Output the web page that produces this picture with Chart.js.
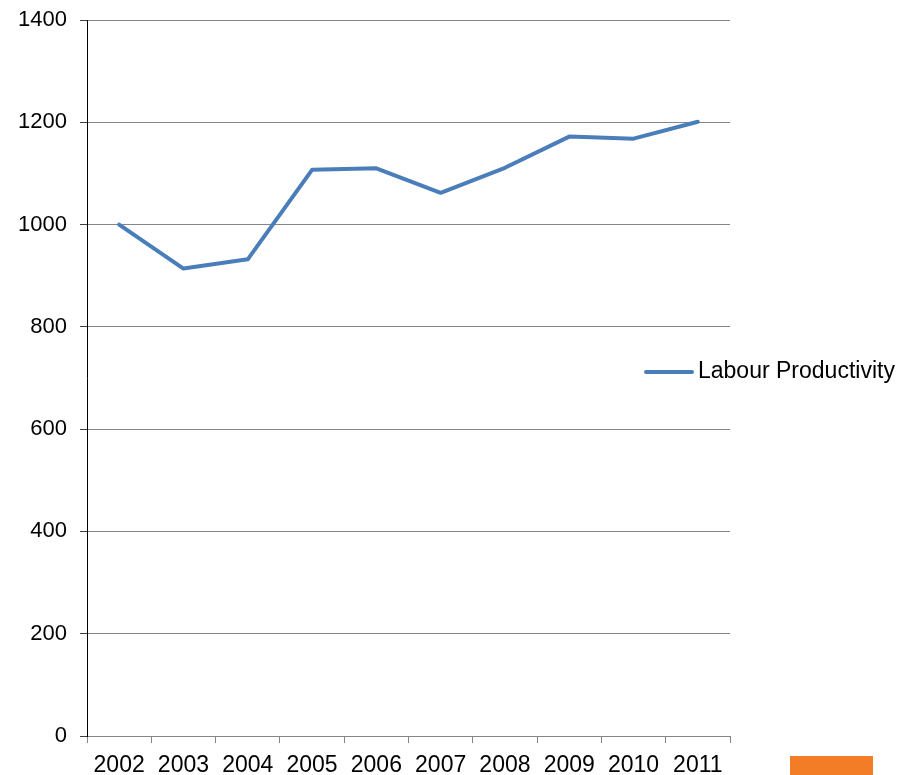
<!DOCTYPE html>
<html>
<head>
<meta charset="utf-8">
<title>Labour Productivity</title>
<script src="https://cdn.jsdelivr.net/npm/chart.js@4/dist/chart.umd.min.js"></script>
<style>
    html, body { margin: 0; padding: 0; background: #fff; }
    .wrap { position: relative; width: 911px; height: 775px; }
    #productivityChart { display: block; }
    .slide-tab { position: absolute; left: 790px; top: 756px; width: 83px; height: 19px; background: #f27d26; }
</style>
</head>
<body>
<div class="wrap">
    <canvas id="productivityChart" width="911" height="775"></canvas>
    <div class="slide-tab"></div>
</div>
<script>
// ---- data ----
const years = ['2002', '2003', '2004', '2005', '2006', '2007', '2008', '2009', '2010', '2011'];
const productivity = [1000, 914, 932, 1107, 1110, 1062, 1111, 1172, 1168, 1201];
const yTicks = [0, 200, 400, 600, 800, 1000, 1200, 1400];

const LINE_BLUE = '#4a7ebb';
const GRID_GREY = '#868686';
const FONT = 'Liberation Sans, Arial, sans-serif';

// legend sits over the right edge of the plot, so draw it by hand
const overlayLegend = {
    id: 'overlayLegend',
    afterDraw(chart) {
        const { ctx, chartArea } = chart;
        const ds = chart.data.datasets[0];
        const cy = (chartArea.top + chartArea.bottom) / 2 - 6;
        const x0 = chartArea.right - 84;

        ctx.save();
        ctx.strokeStyle = ds.borderColor;
        ctx.lineWidth = 4;
        ctx.lineCap = 'round';
        ctx.beginPath();
        ctx.moveTo(x0, cy);
        ctx.lineTo(x0 + 46, cy);
        ctx.stroke();

        ctx.fillStyle = '#000';
        ctx.font = '23px ' + FONT;
        ctx.textBaseline = 'middle';
        ctx.textAlign = 'left';
        ctx.fillText(ds.label, x0 + 52, cy);
        ctx.restore();
    }
};

new Chart(document.getElementById('productivityChart'), {
    type: 'line',
    data: {
        labels: years,
        datasets: [{
            label: 'Labour Productivity',
            data: productivity,
            borderColor: LINE_BLUE,
            backgroundColor: LINE_BLUE,
            borderWidth: 4,
            borderJoinStyle: 'round',
            borderCapStyle: 'round',
            pointRadius: 0,
            tension: 0,
            fill: false
        }]
    },
    options: {
        responsive: false,
        animation: false,
        layout: { padding: { top: 20, right: 181, left: 0, bottom: 0 } },
        plugins: {
            legend: { display: false },
            tooltip: { enabled: false }
        },
        scales: {
            x: {
                offset: true,
                afterFit: (scale) => { scale.height = 39; },
                grid: {
                    offset: true,
                    drawOnChartArea: false,
                    drawTicks: true,
                    tickLength: 7,
                    tickColor: GRID_GREY,
                    color: GRID_GREY
                },
                border: { color: GRID_GREY, width: 1 },
                ticks: {
                    color: '#000',
                    padding: 9,
                    maxRotation: 0,
                    autoSkip: false,
                    font: { family: FONT, size: 23 }
                }
            },
            y: {
                min: 0,
                max: 1400,
                afterFit: (scale) => {
                    scale.width = 87;
                    // top label fits inside the layout padding
                    scale.paddingTop = 0;
                    scale.paddingBottom = 0;
                },
                afterBuildTicks: (scale) => { scale.ticks = yTicks.map(v => ({ value: v })); },
                grid: {
                    color: GRID_GREY,
                    lineWidth: 1,
                    drawTicks: true,
                    tickLength: 7,
                    tickColor: '#404040'
                },
                border: { color: '#000', width: 1 },
                ticks: {
                    color: '#000',
                    padding: 13,
                    font: { family: FONT, size: 22 },
                    callback: (v) => String(v)
                }
            }
        }
    },
    plugins: [overlayLegend]
});
</script>
</body>
</html>
